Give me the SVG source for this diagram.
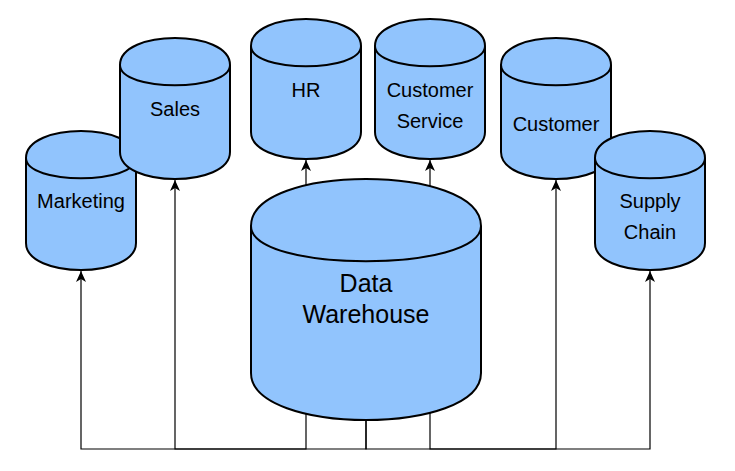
<svg xmlns="http://www.w3.org/2000/svg" width="735" height="471" viewBox="0 0 735 471">
<style>
.cyl{fill:#91c4fd;stroke:#000;stroke-width:2;}
.inner{fill:none;stroke:#000;stroke-width:2;}
.lbl{font-family:"Liberation Sans",Arial,Helvetica,sans-serif;font-size:20px;fill:#000;text-anchor:middle;}
.big{font-size:25px;}
.edge{fill:none;stroke:#000;stroke-width:1.2;marker-end:url(#arr);}
</style>
<defs>
<marker id="arr" viewBox="0 0 11 10" refX="11" refY="5" markerWidth="11" markerHeight="10" markerUnits="userSpaceOnUse" orient="auto">
<path d="M0,0 L11,5 L0,10 L3,5 Z" fill="#000"/>
</marker>
</defs>
<rect width="735" height="471" fill="#fff"/>
<g id="connectors">
<path class="edge" d="M366,400 L366,449 L81,449 L81,271"/>
<path class="edge" d="M306,400 L306,449 L175,449 L175,180"/>
<path class="edge" d="M430,400 L430,449 L556,449 L556,180"/>
<path class="edge" d="M366,400 L366,449 L650,449 L650,271"/>
<path class="edge" d="M306,200 L306,160"/>
<path class="edge" d="M430,200 L430,160"/>
</g>
<g id="marketing">
<path class="cyl" d="M26,158 C26,122 136,122 136,158 L136,243 C136,279 26,279 26,243 Z"/>
<path class="inner" d="M26,158 C26,185 136,185 136,158"/>
<text class="lbl" x="81" y="208">Marketing</text>
</g>
<g id="sales">
<path class="cyl" d="M120,65 C120,29 230,29 230,65 L230,152 C230,188 120,188 120,152 Z"/>
<path class="inner" d="M120,65 C120,92 230,92 230,65"/>
<text class="lbl" x="175" y="116">Sales</text>
</g>
<g id="hr">
<path class="cyl" d="M251,46 C251,10 361,10 361,46 L361,132 C361,168 251,168 251,132 Z"/>
<path class="inner" d="M251,46 C251,73 361,73 361,46"/>
<text class="lbl" x="306" y="97">HR</text>
</g>
<g id="customer-service">
<path class="cyl" d="M375,46 C375,10 485,10 485,46 L485,132 C485,168 375,168 375,132 Z"/>
<path class="inner" d="M375,46 C375,73 485,73 485,46"/>
<text class="lbl" x="430" y="97">Customer</text>
<text class="lbl" x="430" y="128">Service</text>
</g>
<g id="customer">
<path class="cyl" d="M501,65 C501,29 611,29 611,65 L611,152 C611,188 501,188 501,152 Z"/>
<path class="inner" d="M501,65 C501,92 611,92 611,65"/>
<text class="lbl" x="556" y="131">Customer</text>
</g>
<g id="supply-chain">
<path class="cyl" d="M595,158 C595,122 705,122 705,158 L705,243 C705,279 595,279 595,243 Z"/>
<path class="inner" d="M595,158 C595,185 705,185 705,158"/>
<text class="lbl" x="650" y="208">Supply</text>
<text class="lbl" x="650" y="239">Chain</text>
</g>
<g id="data-warehouse">
<path class="cyl" d="M251,226 C251,163.3 481,163.3 481,226 L481,373 C481,435.7 251,435.7 251,373 Z"/>
<path class="inner" d="M251,226 C251,273 481,273 481,226"/>
<text class="lbl big" x="366" y="292">Data</text>
<text class="lbl big" x="366" y="323">Warehouse</text>
</g>
</svg>
